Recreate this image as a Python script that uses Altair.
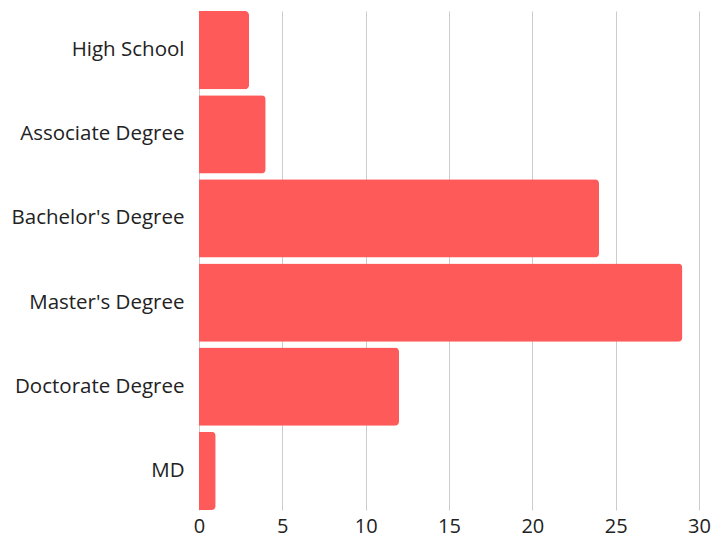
import altair as alt
import pandas as pd

# Education level counts
levels = ["High School", "Associate Degree", "Bachelor's Degree",
          "Master's Degree", "Doctorate Degree", "MD"]
counts = [3, 4, 24, 29, 12, 1]

df = pd.DataFrame({"level": levels, "count": counts})

chart = (
    alt.Chart(df)
    .mark_bar(color="#FF5A5A", cornerRadiusTopRight=4, cornerRadiusBottomRight=4)
    .encode(
        x=alt.X(
            "count:Q",
            scale=alt.Scale(domain=[0, 30], nice=False),
            axis=alt.Axis(
                values=[0, 5, 10, 15, 20, 25, 30],
                title=None,
                domain=False,
                ticks=False,
                grid=True,
                gridColor="#CCCCCC",
                labelFont="Open Sans",
                labelFontSize=20,
                labelColor="#222222",
                labelPadding=6,
                labelFlush=False,
            ),
        ),
        y=alt.Y(
            "level:N",
            sort=levels,
            scale=alt.Scale(paddingInner=0.07, paddingOuter=0),
            axis=alt.Axis(
                title=None,
                domain=False,
                ticks=False,
                labelFont="Open Sans",
                labelFontSize=20.5,
                labelColor="#222222",
                labelPadding=15,
            ),
        ),
    )
    .properties(
        width=500,
        height=499,
        autosize=alt.AutoSizeParams(type="none"),
        padding={"left": 199, "top": 11, "right": 28, "bottom": 28},
    )
    .configure_view(stroke=None)
)

chart.save("out.html", embed_options={"renderer": "svg", "actions": False})
